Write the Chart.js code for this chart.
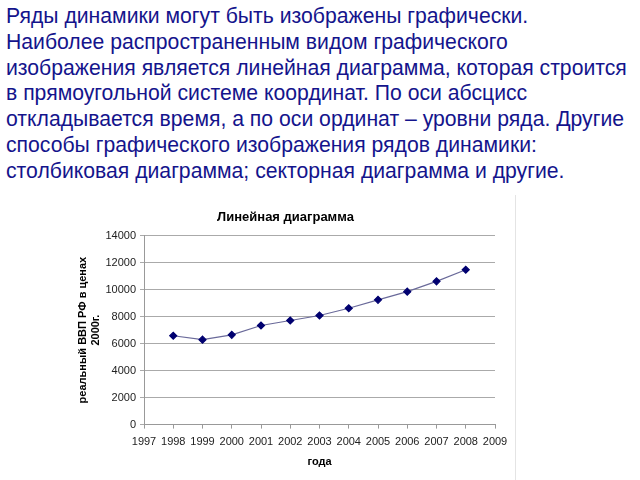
<!DOCTYPE html>
<html>
<head>
<meta charset="utf-8">
<script src="https://cdn.jsdelivr.net/npm/chart.js@4"></script>
<style>
  body { margin: 0; background: #fff; width: 640px; height: 480px; overflow: hidden; position: relative; }
  #txt {
    position: absolute; left: 6px; top: 3px; width: 634px;
    font-family: "Liberation Sans", Arial, sans-serif; font-size: 21.2px; line-height: 25.8px;
    color: #14148c; white-space: nowrap;
  }
  #box { position: absolute; left: 60px; top: 195px; width: 455px; height: 285px; border-right: 1px solid #e4e4e4; }
</style>
</head>
<body>
<div id="txt">
Ряды динамики могут быть изображены графически.<br>
Наиболее распространенным видом графического<br>
изображения является линейная диаграмма, которая строится<br>
в прямоугольной системе координат. По оси абсцисс<br>
откладывается время, а по оси ординат – уровни ряда. Другие<br>
способы графического изображения рядов динамики:<br>
столбиковая диаграмма; секторная диаграмма и другие.
</div>
<div id="box"><canvas id="graphCanvas" width="455" height="285"></canvas></div>
<script>
// годы и реальный ВВП (в ценах 2000 г.)
var years = [1998, 1999, 2000, 2001, 2002, 2003, 2004, 2005, 2006, 2007, 2008];
var gdp = [6580, 6290, 6650, 7340, 7710, 8080, 8620, 9240, 9850, 10610, 11470];
var xTicks = [1997, 1998, 1999, 2000, 2001, 2002, 2003, 2004, 2005, 2006, 2007, 2008, 2009];
var yTicks = [0, 2000, 4000, 6000, 8000, 10000, 12000, 14000];

var points = [];
for (var i in years) {
    points.push({ x: years[i], y: gdp[i] });
}

var font = "'Liberation Sans', Arial, sans-serif";

new Chart(document.getElementById("graphCanvas"), {
    type: 'line',
    data: {
        datasets: [{
            data: points,
            borderColor: '#6a6a9a',
            borderWidth: 1.2,
            backgroundColor: '#000070',
            pointBackgroundColor: '#000070',
            pointBorderColor: '#000070',
            pointStyle: 'rectRot',
            pointRadius: 3.5,
            tension: 0
        }]
    },
    options: {
        responsive: false,
        animation: false,
        layout: { padding: { top: 15, right: 20, bottom: 6, left: 16 } },
        plugins: {
            legend: { display: false },
            tooltip: { enabled: false },
            title: {
                display: true,
                text: 'Линейная диаграмма',
                color: '#000',
                font: { family: font, size: 13, weight: 'bold' },
                padding: { top: 0, bottom: 10 }
            }
        },
        scales: {
            x: {
                type: 'linear',
                min: xTicks[0],
                max: xTicks[xTicks.length - 1],
                afterBuildTicks: function (axis) {
                    axis.ticks = xTicks.map(function (v) { return { value: v }; });
                },
                ticks: {
                    color: '#222', font: { family: font, size: 11 }, padding: 7,
                    maxRotation: 0, autoSkip: false,
                    callback: function (v) { return String(v); }
                },
                grid: { drawOnChartArea: false, color: '#999', tickLength: 4 },
                border: { color: '#999' },
                title: {
                    display: true, text: 'года', color: '#000',
                    font: { family: font, size: 11, weight: 'bold' }, padding: { top: 0, bottom: 5 }
                }
            },
            y: {
                min: 0,
                max: 14000,
                afterBuildTicks: function (axis) {
                    axis.ticks = yTicks.map(function (v) { return { value: v }; });
                },
                afterFit: function (axis) { axis.width = 68; },
                ticks: {
                    color: '#222', font: { family: font, size: 11 }, padding: 4,
                    callback: function (v) { return String(v); }
                },
                grid: { color: '#aaa', tickLength: 4 },
                border: { color: '#999' },
                title: {
                    display: true, text: ['реальный ВВП РФ в ценах', '2000г.'], color: '#000',
                    font: { family: font, size: 11, weight: 'bold' }, padding: 0
                }
            }
        }
    }
});
</script>
</body>
</html>
